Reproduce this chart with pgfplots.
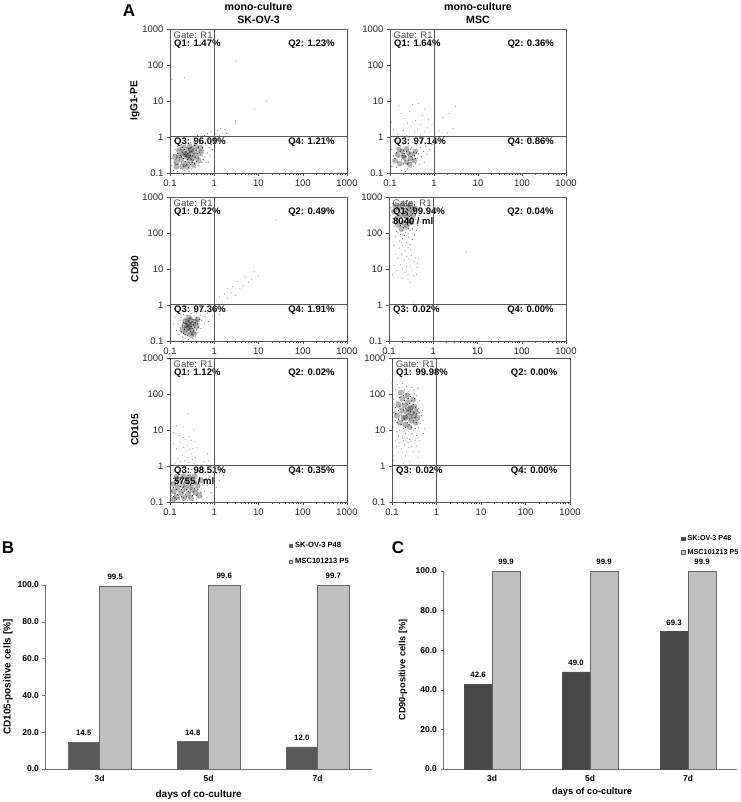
\documentclass[border=0pt]{standalone}
\usepackage{pgfplots}
\pgfplotsset{compat=1.18}
\usepackage{fontspec}
\setmainfont{Liberation Sans}
\newcommand{\fsz}[1]{\fontsize{#1}{#1}\selectfont}
\definecolor{fr}{HTML}{555555}
\pgfplotsset{
 cytoaxis/.style={
  scale only axis,width=177pt,height=144pt,
  xmin=0.1,xmax=1000,ymin=0.1,ymax=1000,
  xtick={0.1,1,10,100,1000},ytick={0.1,1,10,100,1000},
  minor xtick={.2,.3,.4,.5,.6,.7,.8,.9,2,3,4,5,6,7,8,9,20,30,40,50,60,70,80,90,200,300,400,500,600,700,800,900},
  xticklabels={0.1,1,10,100,1000},yticklabels={0.1,1,10,100,1000},
  tick label style={font=\fsz{9.5},text=black!85},
  axis line style={fr,line width=0.9pt},
  tick style={black!70,line width=0.5pt},
  tick align=outside,ytick pos=left,xtick pos=bottom,
  major tick length=3pt,minor tick length=1.6pt,
  yminorticks=false,
  clip=false,
  every axis y label/.style={at={(rel axis cs:-0.198,0.5)},rotate=90,anchor=center,font=\fsz{10.2}\bfseries},
  title style={font=\fsz{10.6}\bfseries,align=center,at={(0.5,1)},anchor=south,yshift=-4pt},
 },
 coreA/.style={only marks,mark=*,mark size=3pt,mark options={draw opacity=0,fill=black,fill opacity=0.3}},
 dotA/.style={only marks,mark=*,mark size=0.4pt,mark options={draw=black!90,fill=black!90,line width=0.1pt}},
 dotB/.style={only marks,mark=*,mark size=0.38pt,mark options={draw=black!60,fill=black!60,line width=0.1pt}},
 farA/.style={only marks,mark=*,mark size=0.4pt,mark options={draw=black!40,fill=black!40,line width=0.1pt}},
 gateA/.style={fr,line width=1pt},
 barsA/.style={
  scale only axis,ybar=0pt,ymin=0,ymax=100,xmin=-0.5,xmax=2.5,clip=false,
  xtick={0,1,2},xticklabels={3d,5d,7d},minor xtick={-0.5,0.5,1.5,2.5},
  ytick={0,20,40,60,80,100},yticklabels={0.0,20.0,40.0,60.0,80.0,100.0},
  axis x line=bottom,axis y line=left,axis line style={-,black!55,line width=0.8pt},
  x tick style={draw=none},
  minor x tick style={black!50},minor tick length=1.5pt,
  y tick style={black!55},major tick length=2.5pt,tick align=outside,
  tick label style={font=\fsz{8.5}\bfseries},
  nodes near coords,nodes near coords style={font=\fsz{7.8}\bfseries,/pgf/number format/assume math mode=true,/pgf/number format/fixed,/pgf/number format/fixed zerofill,/pgf/number format/precision=1,yshift=3pt},
  legend cell align=left,
  legend image code/.code={\draw[##1] (0pt,-1.8pt) rectangle (3.6pt,1.8pt);},
 },
}
\newcommand{\qlab}[4]{%
 \node[anchor=west,inner sep=0pt,font=\fsz{9.5},text=black!70] at (rel axis cs:0.02,0.958) {Gate: R1};
 \node[anchor=west,inner sep=0pt,font=\fsz{9.5}\bfseries] at (rel axis cs:0.0226,0.896) {Q1: #1};
 \node[anchor=west,inner sep=0pt,font=\fsz{9.5}\bfseries] at (rel axis cs:0.667,0.896) {Q2: #2};
 \node[anchor=west,inner sep=0pt,font=\fsz{9.5}\bfseries] at (rel axis cs:0.0226,0.215) {Q3: #3};
 \node[anchor=west,inner sep=0pt,font=\fsz{9.5}\bfseries] at (rel axis cs:0.667,0.215) {Q4: #4};
 \addplot[gateA] coordinates {(1,0.1)(1,1000)};
 \addplot[gateA] coordinates {(0.1,1)(1000,1)};
}
\begin{document}
\begin{tikzpicture}
\useasboundingbox (0,0) rectangle (740pt,802pt);
\node[font=\fsz{17}\bfseries] at (129pt,791pt) {A};
\node[font=\fsz{17}\bfseries] at (8pt,254pt) {B};
\node[font=\fsz{17}\bfseries] at (398pt,254pt) {C};

% ---- IgG1-PE, SK-OV-3
\begin{loglogaxis}[cytoaxis,at={(170pt,629pt)},anchor=south west,ylabel={IgG1-PE},title={mono-culture\\[2.5pt]SK-OV-3}]
\addplot[coreA] coordinates {(.14,.2)(.16,.3)(.18,.24)(.2,.36)(.22,.18)(.24,.28)(.26,.42)(.28,.22)(.3,.33)(.33,.26)(.36,.4)(.4,.3)(.44,.22)(.2,.5)(.16,.42)(.14,.15)(.28,.55)(.38,.55)(.5,.38)(.25,.15)(.34,.17)(.48,.5)(.13,.28)(.22,.33)(.3,.44)(.19,.15)(.26,.3)};
\addplot[dotA] coordinates {(.13,.19)(.14,.26)(.15,.35)(.15,.17)(.16,.23)(.17,.31)(.17,.44)(.18,.19)(.18,.28)(.19,.38)(.19,.52)(.2,.15)(.2,.25)(.21,.33)(.21,.45)(.22,.21)(.22,.6)(.23,.29)(.23,.4)(.24,.17)(.24,.52)(.25,.24)(.25,.35)(.26,.14)(.26,.47)(.27,.27)(.27,.19)(.28,.38)(.29,.31)(.29,.17)(.3,.24)(.3,.52)(.31,.4)(.32,.2)(.32,.3)(.33,.46)(.34,.23)(.35,.34)(.36,.18)(.36,.58)(.38,.28)(.39,.43)(.4,.21)(.42,.35)(.44,.5)(.45,.26)(.47,.38)(.5,.3)(.54,.5)(.56,.24)};
\addplot[dotB] coordinates {(.11,.16)(.12,.32)(.13,.45)(.11,.25)(.15,.55)(.17,.13)(.18,.62)(.21,.12)(.23,.7)(.27,.11)(.29,.68)(.31,.13)(.35,.75)(.37,.14)(.41,.8)(.43,.16)(.46,.66)(.52,.2)(.55,.3)(.58,.42)(.62,.28)(.65,.6)(.7,.36)(.72,.72)(.76,.5)(.8,.85)(.85,.62)(.9,1.05)(1.0,.8)(1.1,1.2)(1.15,.9)(1.2,1.5)(1.3,1.1)(1.4,1.7)(1.5,1.3)(1.6,.95)(1.75,1.6)(1.9,1.25)(.6,1.1)(.7,1.25)(.5,.95)(.42,1.1)(.85,1.4)(1.0,1.6)(.65,.2)(.8,.3)(.75,.2)(.9,.45)(.12,.12)(.15,.11)};
\addplot[farA] coordinates {(3,130)(0.21,45)(0.11,40)(15,10)(8,6)(3,2.9)(3,2.4)};
\qlab{1.47\%}{1.23\%}{96.09\%}{1.21\%}
\end{loglogaxis}

% ---- IgG1-PE, MSC
\begin{loglogaxis}[cytoaxis,at={(390pt,629pt)},anchor=south west,width=176pt,title={mono-culture\\[2.5pt]MSC}]
\addplot[coreA,mark size=2.8pt] coordinates {(.13,.22)(.15,.32)(.17,.18)(.19,.4)(.21,.27)(.24,.2)(.26,.36)(.29,.25)(.32,.32)(.36,.22)(.2,.3)(.16,.45)(.28,.17)(.24,.48)(.38,.4)};
\addplot[dotA] coordinates {(.13,.25)(.14,.36)(.15,.2)(.16,.28)(.17,.4)(.18,.23)(.19,.31)(.2,.18)(.2,.42)(.21,.35)(.22,.22)(.23,.28)(.24,.4)(.25,.18)(.26,.3)(.27,.23)(.28,.36)(.29,.46)(.3,.2)(.31,.28)(.33,.24)(.34,.38)(.36,.3)(.38,.25)(.4,.36)};
\addplot[dotB] coordinates {(.11,.15)(.12,.3)(.11,.45)(.13,.6)(.14,.14)(.15,.72)(.17,.55)(.18,.12)(.19,.85)(.2,.62)(.22,.11)(.23,.75)(.25,.13)(.26,.6)(.27,.95)(.3,.14)(.31,.5)(.33,.7)(.34,.15)(.35,.9)(.38,.18)(.4,.6)(.42,.26)(.43,.8)(.45,.35)(.47,.17)(.5,.5)(.52,.28)(.55,.72)(.58,.4)(.6,.2)(.65,.55)(.7,.32)(.75,.9)(.8,.45)(.9,.62)};
\addplot[farA] coordinates {(.14,.85)(.18,4.5)(.28,5)(.32,8)(.45,8.5)(.6,6)(.75,3)(.9,2.2)(1.3,1.5)(1.6,3.5)(2.0,1.3)(2.2,4.5)(2.7,1.7)(3.1,7)(.11,2.6)(.16,7.5)(.15,1.2)(.2,1.5)(.24,1.1)(.3,1.9)(.36,1.3)(.42,1.6)(.5,1.15)(.6,1.4)(.12,1.6)(.25,2.4)(.38,2.9)(.5,2.2)(.7,1.8)(.2,3.3)(.55,4)};
\qlab{1.64\%}{0.36\%}{97.14\%}{0.86\%}
\end{loglogaxis}

% ---- CD90, SK-OV-3
\begin{loglogaxis}[cytoaxis,at={(170pt,461pt)},anchor=south west,ylabel={CD90}]
\addplot[coreA] coordinates {(.19,.2)(.21,.27)(.23,.17)(.25,.32)(.27,.23)(.29,.38)(.31,.2)(.33,.29)(.35,.16)(.37,.35)(.28,.28)(.24,.24)(.4,.25)(.22,.36)(.3,.15)(.42,.4)(.27,.44)};
\addplot[dotA] coordinates {(.18,.18)(.19,.26)(.2,.33)(.2,.16)(.21,.21)(.22,.3)(.22,.15)(.23,.24)(.23,.4)(.24,.19)(.24,.3)(.25,.14)(.25,.25)(.26,.36)(.26,.2)(.27,.28)(.27,.16)(.28,.42)(.28,.22)(.29,.18)(.29,.31)(.3,.25)(.31,.34)(.31,.15)(.32,.22)(.33,.4)(.34,.2)(.34,.28)(.36,.24)(.37,.17)(.38,.32)(.39,.44)(.4,.2)(.42,.3)(.44,.24)(.46,.4)};
\addplot[dotB] coordinates {(.14,.2)(.15,.3)(.16,.15)(.17,.38)(.17,.24)(.18,.46)(.19,.13)(.2,.55)(.22,.12)(.24,.5)(.26,.11)(.3,.58)(.33,.12)(.35,.5)(.38,.13)(.4,.6)(.43,.17)(.45,.3)(.48,.52)(.5,.22)(.52,.38)(.55,.65)(.6,.3)(.62,.48)(.7,.6)(.75,.35)(.85,.7)(.9,.5)(.36,.75)(.28,.72)(.5,.85)(1.1,.8)(1.3,.55)};
\addplot[farA] coordinates {(1.1,1.3)(1.3,1.7)(1.5,1.2)(1.7,2)(2,1.5)(2,2.8)(2.4,2.2)(2.6,3.2)(3,1.8)(3.3,4.6)(3.8,2.9)(4.5,3.4)(5,6)(6,4.3)(7,5.2)(8,8.5)(10,6.5)(25,230)(.13,.45)(.16,.7)(.12,.3)};
\qlab{0.22\%}{0.49\%}{97.36\%}{1.91\%}
\end{loglogaxis}

% ---- CD90, MSC
\begin{loglogaxis}[cytoaxis,at={(389pt,461pt)},anchor=south west,width=177pt]
\addplot[coreA] coordinates {(.13,400)(.15,250)(.17,480)(.19,320)(.21,190)(.23,420)(.25,280)(.27,520)(.29,350)(.31,220)(.33,440)(.2,600)(.25,150)(.16,170)(.35,300)(.14,560)(.23,350)(.3,600)(.38,480)(.19,130)(.28,190)};
\addplot[dotA] coordinates {(.13,250)(.14,340)(.15,450)(.15,180)(.16,300)(.17,220)(.17,600)(.18,380)(.18,160)(.19,500)(.19,260)(.2,330)(.2,200)(.21,440)(.21,140)(.22,270)(.22,560)(.23,210)(.23,150)(.24,390)(.24,650)(.25,240)(.25,480)(.26,170)(.26,320)(.27,230)(.27,420)(.28,130)(.28,560)(.29,290)(.3,190)(.3,380)(.31,480)(.32,260)(.33,170)(.34,340)(.35,520)(.36,240)(.37,400)(.4,320)};
\addplot[dotB] coordinates {(.11,300)(.11,500)(.12,200)(.12,650)(.13,150)(.14,700)(.15,110)(.16,100)(.17,760)(.18,90)(.2,120)(.21,780)(.22,85)(.24,105)(.26,800)(.27,95)(.3,115)(.32,720)(.34,130)(.36,180)(.38,620)(.4,240)(.42,380)(.44,160)(.45,500)(.48,300)(.5,420)(.52,200)(.42,120)(.14,80)(.17,60)(.2,70)(.25,55)(.28,75)(.3,48)(.34,65)(.38,88)(.13,45)};
\addplot[farA] coordinates {(.17,38)(.2,45)(.23,32)(.27,40)(.31,35)(.14,26)(.16,20)(.19,25)(.22,17)(.25,22)(.28,19)(.32,24)(.37,16)(.4,21)(.44,14)(.47,20)(.13,12.5)(.15,9)(.18,13)(.2,10)(.23,8)(.25,11.5)(.27,7)(.3,12)(.33,9.5)(.36,6.5)(.12,7)(.16,6)(.2,5.5)(.27,5)(.3,4.3)(.43,11)(.42,7)(.36,1.2)(5.5,29)};
\qlab{99.94\%}{0.04\%}{0.02\%}{0.00\%}
\node[anchor=west,inner sep=0pt,font=\fsz{9.5}\bfseries] at (rel axis cs:0.0226,0.833) {8040 / ml};
\end{loglogaxis}

% ---- CD105, SK-OV-3
\begin{loglogaxis}[cytoaxis,at={(170pt,300pt)},anchor=south west,ylabel={CD105}]
\addplot[coreA] coordinates {(.12,.2)(.12,.32)(.14,.14)(.15,.25)(.16,.4)(.18,.18)(.19,.3)(.21,.13)(.22,.24)(.24,.38)(.26,.17)(.28,.28)(.3,.13)(.32,.22)(.35,.36)(.38,.18)(.42,.28)(.46,.15)(.14,.5)(.2,.52)(.27,.5)(.36,.52)(.12,.12)(.5,.4)};
\addplot[dotA] coordinates {(.11,.2)(.11,.34)(.12,.14)(.12,.25)(.12,.45)(.13,.17)(.13,.3)(.14,.22)(.14,.38)(.14,.12)(.15,.16)(.15,.3)(.15,.5)(.16,.2)(.16,.13)(.17,.27)(.17,.42)(.18,.14)(.18,.22)(.18,.35)(.19,.18)(.19,.5)(.2,.13)(.2,.26)(.21,.2)(.21,.36)(.22,.16)(.22,.44)(.23,.28)(.24,.14)(.24,.22)(.25,.34)(.26,.2)(.26,.55)(.27,.13)(.28,.18)(.29,.3)(.3,.22)(.3,.42)(.32,.15)(.33,.28)(.34,.19)(.36,.24)(.38,.34)(.4,.15)(.43,.22)(.45,.38)(.5,.18)};
\addplot[dotB] coordinates {(.105,.28)(.105,.42)(.11,.15)(.11,.6)(.13,.7)(.13,.11)(.16,.12)(.17,.65)(.19,.75)(.2,.11)(.23,.72)(.25,.11)(.29,.66)(.31,.8)(.33,.11)(.37,.62)(.4,.12)(.44,.72)(.48,.2)(.52,.14)(.55,.3)(.58,.6)(.6,.2)(.65,.45)(.68,.13)(.72,.28)(.78,.5)(.85,.18)(.9,.35)(.95,.7)(1.15,.62)(1.3,.4)(1.45,.85)(1.6,.55)(1.1,.25)(.22,.95)(.3,1)(.38,.9)(.5,.95)};
\addplot[farA] coordinates {(.13,1.2)(.15,1.6)(.17,1.3)(.19,2)(.21,1.4)(.23,2.6)(.25,1.7)(.27,1.25)(.3,2.2)(.32,1.5)(.35,1.2)(.38,1.7)(.14,3)(.17,4.4)(.2,3.3)(.22,5.5)(.25,3.8)(.27,2.8)(.3,5.2)(.33,3)(.37,4.6)(.41,3.2)(.12,4.2)(.13,8)(.16,7)(.2,6.2)(.28,6.5)(.6,1.3)(.7,2.2)(.75,1.4)(.25,29)(.14,13)(.35,10)(.2,12)(.12,8.5)};
\qlab{1.12\%}{0.02\%}{98.51\%}{0.35\%}
\node[anchor=west,inner sep=0pt,font=\fsz{9.5}\bfseries] at (rel axis cs:0.0226,0.146) {5755 / ml};
\end{loglogaxis}

% ---- CD105, MSC
\begin{loglogaxis}[cytoaxis,at={(392pt,300pt)},anchor=south west,width=178pt]
\addplot[coreA] coordinates {(.13,25)(.14,50)(.15,16)(.16,35)(.17,75)(.18,22)(.19,48)(.2,14)(.21,32)(.22,90)(.23,60)(.24,24)(.25,12)(.26,42)(.27,18)(.28,30)(.3,70)(.31,24)(.32,45)(.34,16)(.35,32)(.37,22)(.2,22)(.24,38)(.16,110)};
\addplot[dotA] coordinates {(.12,28)(.13,60)(.13,16)(.14,35)(.14,20)(.15,80)(.15,45)(.16,14)(.16,26)(.17,55)(.17,18)(.18,36)(.18,90)(.19,20)(.19,65)(.2,40)(.2,12)(.21,26)(.21,100)(.22,50)(.22,16)(.23,35)(.23,75)(.24,14)(.24,28)(.25,55)(.25,20)(.26,85)(.26,32)(.27,12)(.27,45)(.28,22)(.28,65)(.29,38)(.3,18)(.3,50)(.31,30)(.32,75)(.33,22)(.34,42)(.35,16)(.36,28)(.38,36)};
\addplot[dotB] coordinates {(.11,12)(.11,30)(.11,70)(.12,130)(.12,18)(.12,42)(.13,180)(.13,9)(.14,100)(.14,7)(.15,150)(.15,10)(.17,6)(.17,200)(.18,11)(.19,130)(.2,8)(.21,160)(.22,6)(.23,9)(.24,120)(.25,5.5)(.27,150)(.28,8)(.3,130)(.3,10)(.32,100)(.33,11)(.35,90)(.36,7)(.38,60)(.39,12)(.4,40)(.4,20)(.42,30)(.43,15)(.45,25)(.48,35)(.5,18)(.42,65)(.38,140)};
\addplot[farA] coordinates {(.12,5)(.13,3.5)(.14,2.4)(.15,4.5)(.16,3)(.18,5)(.19,3.8)(.2,5.3)(.21,2.5)(.23,4.5)(.24,3.3)(.26,4.8)(.28,3.5)(.3,2.5)(.33,5.2)(.36,3.5)(.38,6)(.4,2.5)(.39,1.7)(.42,5)(.5,8)(.11,1.9)(.16,1.6)(.2,1.9)(.11,1.4)(.18,1.2)(.25,1.3)(.55,11)(.1,200)};
\qlab{99.98\%}{0.00\%}{0.02\%}{0.00\%}
\end{loglogaxis}

% ---- B
\begin{axis}[barsA,at={(45pt,33pt)},anchor=south west,width=327pt,height=184pt,bar width=31.5pt,
  ylabel={CD105-positive cells [\%]},xlabel={days of co-culture},
  every axis y label/.style={at={(rel axis cs:-0.113,0.5)},rotate=90,anchor=center,font=\fsz{10}\bfseries},
  every axis x label/.style={at={(rel axis cs:0.47,-0.141)},anchor=center,font=\fsz{10}\bfseries},
  legend style={at={(0.745,1.244)},anchor=north west,draw=none,fill=none,font=\fsz{7.6}\bfseries,inner sep=0pt,row sep=5.5pt,/tikz/every even column/.append style={column sep=1pt}}]
\addplot[draw=black!60,fill=black!65,line width=0.7pt] coordinates {(0,14.5)(1,14.8)(2,12.0)};
\addplot[draw=black!60,fill=black!25,line width=0.7pt] coordinates {(0,99.5)(1,99.6)(2,99.7)};
\legend{SK-OV-3 P48,MSC101213 P5}
\end{axis}

% ---- C
\begin{axis}[barsA,at={(443pt,33pt)},anchor=south west,width=294pt,height=198pt,bar width=28pt,
  ylabel={CD90-positive cells [\%]},xlabel={days of co-culture},
  every axis y label/.style={at={(rel axis cs:-0.136,0.5)},rotate=90,anchor=center,font=\fsz{9.2}\bfseries},
  every axis x label/.style={at={(rel axis cs:0.507,-0.116)},anchor=center,font=\fsz{9.3}\bfseries},
  legend style={at={(0.81,1.19)},anchor=north west,draw=none,fill=none,font=\fsz{7.2}\bfseries,inner sep=0pt,row sep=3pt,/tikz/every even column/.append style={column sep=1pt}}]
\addplot[draw=black!70,fill=black!72,line width=0.7pt] coordinates {(0,42.6)(1,49.0)(2,69.3)};
\addplot[draw=black!60,fill=black!25,line width=0.7pt] coordinates {(0,99.9)(1,99.9)(2,99.9)};
\legend{SK:OV-3 P48,MSC101213 P5}
\end{axis}
\end{tikzpicture}
\end{document}
